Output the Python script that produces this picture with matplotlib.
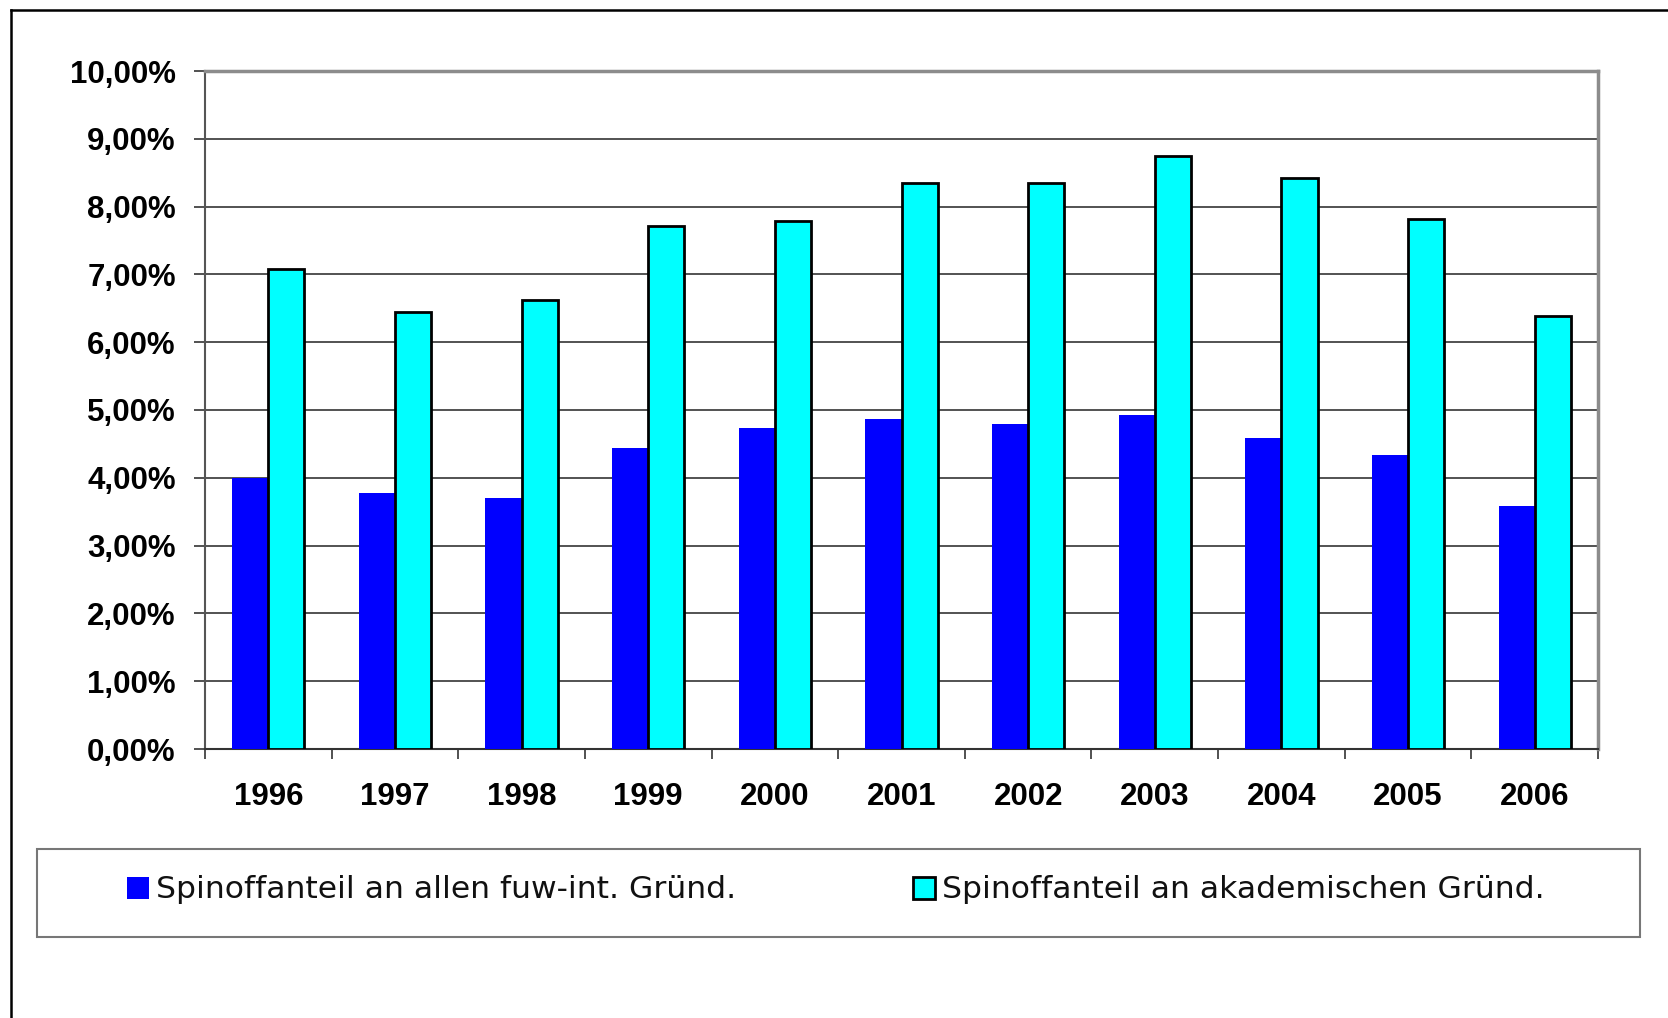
import matplotlib
matplotlib.use("Agg")
import matplotlib.pyplot as plt
from matplotlib.ticker import FuncFormatter, FixedLocator
from matplotlib.lines import Line2D
from matplotlib.patches import Rectangle
import numpy as np

years = ["1996", "1997", "1998", "1999", "2000", "2001", "2002", "2003", "2004", "2005", "2006"]
all_share = [3.99, 3.77, 3.70, 4.44, 4.73, 4.87, 4.79, 4.93, 4.58, 4.33, 3.59]
acad_share = [7.08, 6.45, 6.62, 7.72, 7.79, 8.35, 8.35, 8.74, 8.42, 7.82, 6.38]
label_all = "Spinoffanteil an allen fuw-int. Gründ."
label_acad = "Spinoffanteil an akademischen Gründ."
yticks = [0, 1, 2, 3, 4, 5, 6, 7, 8, 9, 10]

W, H = 1668, 1018
fig = plt.figure(figsize=(W / 100, H / 100), dpi=100)
fig.patch.set_facecolor("white")

L, R, T, B = 205, 1598, 71, 749
ax = fig.add_axes([L / W, 1 - B / H, (R - L) / W, (B - T) / H])

x = np.arange(len(years))
bw = 0.2857
b1 = ax.bar(x - bw / 2, all_share, width=bw, color="#0000FF", edgecolor="none", zorder=3, label=label_all)
b2 = ax.bar(x + bw / 2, acad_share, width=bw, color="#00FFFF", edgecolor="black", linewidth=2.0, zorder=3, label=label_acad)

ax.set_xlim(-0.5, len(years) - 0.5)
ax.set_ylim(0, 10)
ax.yaxis.set_major_locator(FixedLocator(yticks))
ax.yaxis.set_major_formatter(FuncFormatter(lambda v, p: ("%.2f" % v).replace(".", ",") + "%"))
ax.grid(axis="y", color="#444444", linewidth=1.3, zorder=1)

ax.xaxis.set_major_locator(FixedLocator(np.arange(len(years) + 1) - 0.5))
ax.xaxis.set_major_formatter(FuncFormatter(lambda v, p: ""))
ax.xaxis.set_minor_locator(FixedLocator(x))
ax.set_xticklabels(years, minor=True)
ax.tick_params(axis="x", which="major", length=7.5, width=1.2, color="#333333", direction="out")
ax.tick_params(axis="x", which="minor", length=0, pad=23.5, labelsize=22.5)
ax.tick_params(axis="y", length=8, width=1.2, color="#333333", direction="out", pad=13, labelsize=22.5)
for lab in ax.get_xticklabels(minor=True) + ax.get_yticklabels():
    lab.set_fontfamily("Liberation Sans")
    lab.set_fontweight("bold")

ax.spines["left"].set_color("#555555")
ax.spines["left"].set_linewidth(1.5)
ax.spines["bottom"].set_color("#333333")
ax.spines["bottom"].set_linewidth(1.5)
for s in ("top", "right"):
    ax.spines[s].set_color("#8c8c8c")
    ax.spines[s].set_linewidth(2.5)

# outer chart border (top and left visible)
fig.add_artist(Line2D([11 / W, 1.0], [1 - 10 / H, 1 - 10 / H], color="black", linewidth=1.8, transform=fig.transFigure))
fig.add_artist(Line2D([11 / W, 11 / W], [1 - 10 / H, 0.0], color="black", linewidth=1.8, transform=fig.transFigure))

# legend box
lx0, ly0, lx1, ly1 = 37, 849, 1640, 937
fig.add_artist(Rectangle((lx0 / W, 1 - ly1 / H), (lx1 - lx0) / W, (ly1 - ly0) / H,
                         transform=fig.transFigure, facecolor="none", edgecolor="#777777", linewidth=1.5))

legfont = {"family": "DejaVu Sans", "size": 22.6}
common = dict(loc="center left", frameon=False, prop=legfont, handlelength=0.7, handleheight=0.7,
              handletextpad=0.22, borderpad=0, borderaxespad=0)
leg1 = fig.legend(handles=[b1], labels=[label_all], bbox_to_anchor=(127 / W, 1 - 890 / H), **common)
leg2 = fig.legend(handles=[b2], labels=[label_acad], bbox_to_anchor=(913 / W, 1 - 890 / H), **common)
for lg in (leg1, leg2):
    for t in lg.get_texts():
        t.set_color("#111111")

fig.savefig("out.png", dpi=100, facecolor="white")
